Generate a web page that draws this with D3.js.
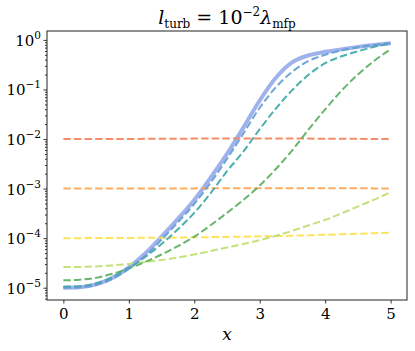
<!DOCTYPE html>
<html>
<head>
<meta charset="utf-8">
<script src="https://cdn.jsdelivr.net/npm/d3@7"></script>
<style>
    body { margin: 0; background: #fff; }
    #chart { width: 415px; height: 351px; }
    svg text { font-family: "DejaVu Serif", serif !important; fill: #000; }
</style>
</head>
<body>
<div id="chart"></div>
<script>
// values
var xValues = [0, 0.25, 0.5, 0.75, 1, 1.25, 1.5, 1.75, 2, 2.25, 2.5, 2.75, 3, 3.25, 3.5, 3.75, 4, 4.25, 4.5, 4.75, 5];

var solidValues = [1.00e-5, 1.02e-5, 1.17e-5, 1.58e-5, 2.57e-5, 4.9e-5, 1.07e-4, 2.45e-4, 5.9e-4, 1.66e-3, 5.0e-3,
    1.70e-2, 6.0e-2, 0.174, 0.355, 0.49, 0.575, 0.645, 0.724, 0.794, 0.861];
var blueValues = [1.00e-5, 1.02e-5, 1.15e-5, 1.51e-5, 2.40e-5, 4.37e-5, 9.3e-5, 2.09e-4, 4.9e-4, 1.32e-3, 3.98e-3,
    1.29e-2, 4.27e-2, 0.112, 0.229, 0.380, 0.501, 0.617, 0.708, 0.794, 0.861];
var tealValues = [1.05e-5, 1.07e-5, 1.23e-5, 1.62e-5, 2.51e-5, 4.17e-5, 7.6e-5, 1.51e-4, 3.24e-4, 8.1e-4, 2.24e-3,
    5.6e-3, 1.58e-2, 4.17e-2, 9.8e-2, 0.200, 0.339, 0.468, 0.589, 0.724, 0.851];
var greenValues = [1.41e-5, 1.45e-5, 1.58e-5, 1.91e-5, 2.45e-5, 3.31e-5, 4.68e-5, 6.9e-5, 1.07e-4, 1.82e-4, 3.24e-4,
    5.9e-4, 1.15e-3, 2.51e-3, 6.0e-3, 1.58e-2, 3.98e-2, 9.5e-2, 0.200, 0.380, 0.646];
var limeValues = [2.63e-5, 2.63e-5, 2.69e-5, 2.82e-5, 3.02e-5, 3.31e-5, 3.63e-5, 4.07e-5, 4.68e-5, 5.5e-5, 6.5e-5,
    7.6e-5, 9.1e-5, 1.12e-4, 1.41e-4, 1.82e-4, 2.34e-4, 3.16e-4, 4.37e-4, 6.0e-4, 8.5e-4];
var yellowValues = [1.00e-4, 1.00e-4, 1.01e-4, 1.01e-4, 1.01e-4, 1.02e-4, 1.02e-4, 1.03e-4, 1.04e-4, 1.05e-4, 1.06e-4,
    1.07e-4, 1.09e-4, 1.10e-4, 1.12e-4, 1.14e-4, 1.17e-4, 1.20e-4, 1.23e-4, 1.26e-4, 1.29e-4];
var orangeValues = [1.00e-3, 1.00e-3, 1.00e-3, 1.00e-3, 1.00e-3, 1.01e-3, 1.01e-3, 1.01e-3, 1.01e-3, 1.02e-3, 1.02e-3,
    1.02e-3, 1.02e-3, 1.02e-3, 1.02e-3, 1.02e-3, 1.02e-3, 1.02e-3, 1.02e-3, 1.01e-3, 1.01e-3];
var redValues = [1.00e-2, 1.00e-2, 1.00e-2, 1.00e-2, 1.00e-2, 1.01e-2, 1.01e-2, 1.01e-2, 1.02e-2, 1.02e-2, 1.02e-2,
    1.02e-2, 1.02e-2, 1.02e-2, 1.02e-2, 1.02e-2, 1.01e-2, 1.01e-2, 1.01e-2, 1.00e-2, 1.00e-2];

var xTicks = [0, 1, 2, 3, 4, 5];
var yTickExponents = [-5, -4, -3, -2, -1, 0];

var ChartApp;
(function (ChartApp) {
    var Chart = (function () {
        function Chart() {
            this.buildScales();
            this.initializeGraphic();
            this.drawLines();
            this.drawAxes();
            this.drawTexts();
        }

        Chart.prototype.buildScales = function () {
            this.x = d3.scaleLinear().domain([-0.25, 5.25]).range([Chart.left, Chart.right]);
            this.y = d3.scaleLog().domain([Math.pow(10, -5.248), Math.pow(10, 0.18)]).range([Chart.bottom, Chart.top]);
        };

        Chart.prototype.initializeGraphic = function () {
            this.svg = d3.select("#chart").append("svg").attr("width", 415).attr("height", 351);
        };

        Chart.prototype.drawLines = function () {
            var _this = this;
            var line = d3.line().x(function (d, i) {
                return _this.x(xValues[i]);
            }).y(function (d) {
                return _this.y(d);
            }).curve(d3.curveMonotoneX);

            var plot = this.svg.append("g");
            plot.append("path").attr("d", line(solidValues)).attr("fill", "none")
                .attr("stroke", "#8fa5e8").attr("stroke-opacity", 0.85).attr("stroke-width", 4);

            var dashed = [
                { values: redValues, color: "#f57f55" },
                { values: orangeValues, color: "#fca34d" },
                { values: yellowValues, color: "#fde04a" },
                { values: limeValues, color: "#bcdf6a" },
                { values: greenValues, color: "#58ad5c" },
                { values: tealValues, color: "#38a6a5" },
                { values: blueValues, color: "#5f9ccf" }
            ];
            dashed.forEach(function (s) {
                plot.append("path").attr("d", line(s.values)).attr("fill", "none")
                    .attr("stroke", s.color).attr("stroke-opacity", 0.9).attr("stroke-width", 2)
                    .attr("stroke-dasharray", "7.4,3.2");
            });
        };

        Chart.prototype.drawAxes = function () {
            var _this = this;
            var xAxis = this.svg.append("g").attr("transform", "translate(0," + Chart.bottom + ")")
                .call(d3.axisBottom(this.x).tickValues(xTicks).tickSize(3.5).tickPadding(5).tickFormat(d3.format("d")));
            xAxis.select(".domain").remove();
            xAxis.attr("font-family", null).attr("font-size", null);
            xAxis.selectAll("text").attr("font-size", 15);

            var majors = yTickExponents.map(function (e) {
                return Math.pow(10, e);
            });
            var yAxis = this.svg.append("g").attr("transform", "translate(" + Chart.left + ",0)")
                .call(d3.axisLeft(this.y).tickValues(majors).tickSize(3.5).tickFormat(""));
            yAxis.select(".domain").remove();

            var minors = [];
            for (var e = -6; e <= 0; e++) {
                for (var m = 2; m <= 9; m++) {
                    var v = m * Math.pow(10, e);
                    if (v > this.y.domain()[0] && v < this.y.domain()[1]) minors.push(v);
                }
            }
            var minorAxis = this.svg.append("g").attr("transform", "translate(" + Chart.left + ",0)")
                .call(d3.axisLeft(this.y).tickValues(minors).tickSize(2).tickFormat(""));
            minorAxis.select(".domain").remove();

            this.svg.selectAll(".tick line").attr("stroke", "#000").attr("stroke-width", 0.8);

            var labels = this.svg.append("g");
            yTickExponents.forEach(function (e) {
                var t = labels.append("text").attr("x", Chart.left - 6).attr("y", _this.y(Math.pow(10, e)) + 6)
                    .attr("text-anchor", "end").attr("font-size", 15);
                t.append("tspan").text("10");
                t.append("tspan").attr("dy", -7).attr("font-size", 10.5).text(e < 0 ? "\u2212" + (-e) : String(e));
            });

            this.svg.append("rect").attr("x", Chart.left).attr("y", Chart.top)
                .attr("width", Chart.right - Chart.left).attr("height", Chart.bottom - Chart.top)
                .attr("fill", "none").attr("stroke", "#222").attr("stroke-width", 1);
        };

        Chart.prototype.drawTexts = function () {
            var cx = (Chart.left + Chart.right) / 2;
            this.svg.append("text").attr("x", cx).attr("y", 340).attr("text-anchor", "middle")
                .attr("font-size", 17).attr("font-style", "italic").text("x");

            var title = this.svg.append("text").attr("x", cx).attr("y", 24).attr("text-anchor", "middle").attr("font-size", 19);
            title.append("tspan").attr("font-style", "italic").text("l");
            title.append("tspan").attr("dy", 4).attr("font-size", 12).text("turb");
            title.append("tspan").attr("dy", -4).text(" = 10");
            title.append("tspan").attr("dy", -8).attr("font-size", 12).text("\u22122");
            title.append("tspan").attr("dy", 8).attr("font-style", "italic").text("\u03bb");
            title.append("tspan").attr("dy", 4).attr("font-size", 12).text("mfp");
        };

        Chart.left = 47;
        Chart.right = 407;
        Chart.top = 31;
        Chart.bottom = 300;
        return Chart;
    })();
    ChartApp.Chart = Chart;
})(ChartApp || (ChartApp = {}));

window.onload = function () {
    var chart = new ChartApp.Chart();
};
</script>
</body>
</html>
